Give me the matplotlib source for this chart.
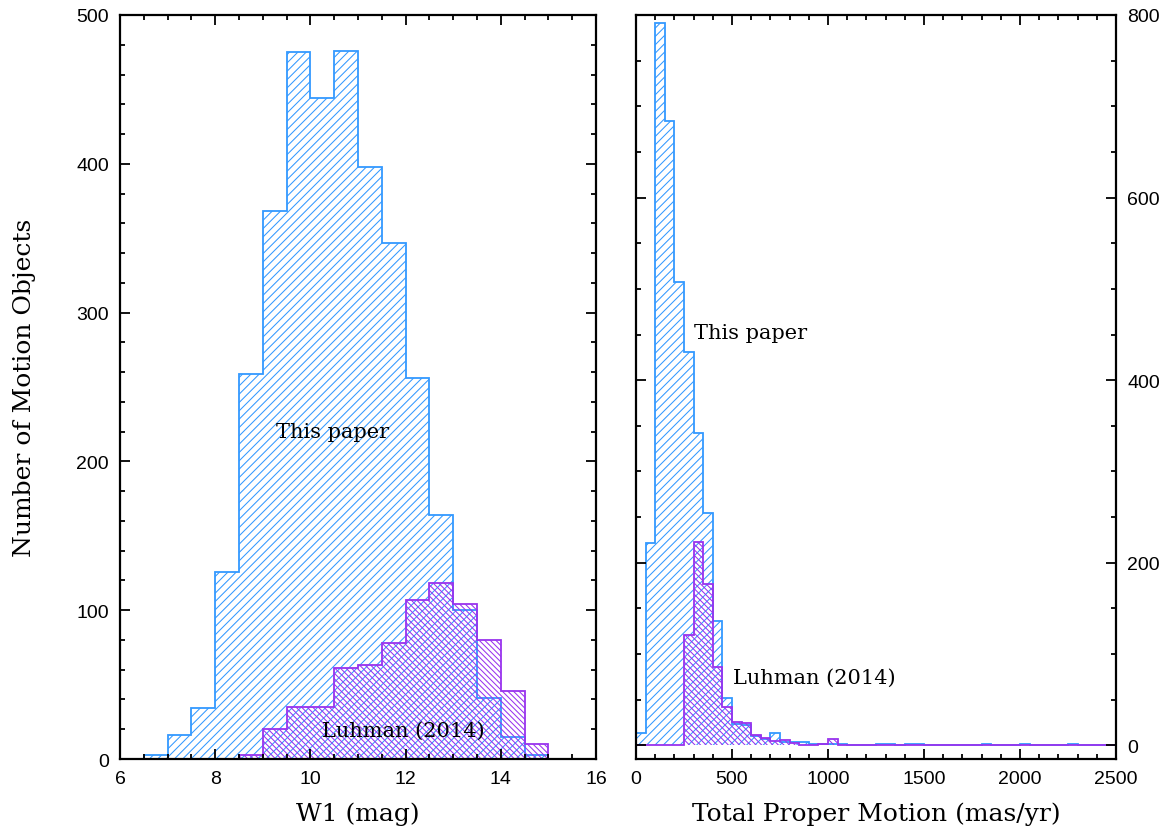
import numpy as np
import matplotlib.pyplot as plt
from matplotlib.ticker import MultipleLocator

# --- W1 histogram (bins of 0.5 mag, 6.5 to 15.0) ---
w1_edges = np.arange(6.5, 15.01, 0.5)
w1_this_paper = [3, 16, 34, 126, 259, 368, 475, 444, 476, 398,
                 347, 256, 164, 100, 41, 15, 3]
w1_luhman = [0, 0, 0, 0, 3, 20, 35, 35, 61, 63,
             78, 107, 118, 104, 80, 46, 10]

# --- total proper motion histogram (bins of 50 mas/yr, 0 to 2500) ---
pm_edges = np.arange(0, 2501, 50)
pm_this_paper = [14, 222, 791, 684, 507, 431, 342, 255, 136, 52,
                 23, 22, 10, 7, 13, 4, 4, 4, 1, 1,
                 1, 1, 0, 0, 0, 1, 1, 0, 2, 2,
                 0, 0, 0, 0, 0, 0, 1, 0, 0, 0,
                 1, 0, 0, 0, 0, 1, 0, 0, 0, 0]
pm_luhman = [0, 0, 0, 0, 0, 121, 223, 177, 86, 42,
             26, 24, 11, 8, 5, 6, 3, 0, 0, 2,
             7, 0, 0, 0, 0, 0, 0, 0, 0, 0,
             0, 0, 0, 0, 0, 0, 0, 0, 0, 0,
             0, 0, 0, 0, 0, 0, 0, 0, 0, 0]

c_blue = '#3399ff'
c_purp = '#9933ee'
serif = 'DejaVu Serif'
sans = 'Liberation Sans'

plt.rcParams['hatch.linewidth'] = 0.75

fig = plt.figure(figsize=(11.71, 8.28), dpi=100)
ax1 = fig.add_axes([0.1025, 0.0821, 0.4065, 0.8986])
ax2 = fig.add_axes([0.5431, 0.0821, 0.4099, 0.8986])


def hatched_hist(ax, edges, values, color, hatch):
    values = np.asarray(values, dtype=float)
    widths = np.diff(edges)
    ax.bar(edges[:-1], values, width=widths, align='edge', fill=False,
           hatch=hatch, edgecolor=color, linewidth=0)
    ax.stairs(values, edges, color=color, linewidth=1.3, baseline=0)


hatched_hist(ax1, w1_edges, w1_this_paper, c_blue, '/' * 4)
hatched_hist(ax1, w1_edges, w1_luhman, c_purp, '\\' * 6)
hatched_hist(ax2, pm_edges, pm_this_paper, c_blue, '/' * 4)
hatched_hist(ax2, pm_edges, pm_luhman, c_purp, '\\' * 6)

ax1.set_xlim(6, 16)
ax1.set_ylim(0, 500)
ax1.xaxis.set_major_locator(MultipleLocator(2))
ax1.xaxis.set_minor_locator(MultipleLocator(0.5))
ax1.yaxis.set_major_locator(MultipleLocator(100))
ax1.yaxis.set_minor_locator(MultipleLocator(20))

ax2.set_xlim(0, 2500)
ax2.set_ylim(-15, 800)
ax2.xaxis.set_major_locator(MultipleLocator(500))
ax2.xaxis.set_minor_locator(MultipleLocator(100))
ax2.yaxis.set_major_locator(MultipleLocator(200))
ax2.yaxis.set_minor_locator(MultipleLocator(50))
ax2.yaxis.tick_right()

for ax in (ax1, ax2):
    ax.tick_params(which='both', direction='in', top=True, bottom=True,
                   left=True, right=True, width=1.3)
    ax.tick_params(which='major', length=7, labelsize=14, pad=8)
    ax.tick_params(which='minor', length=3.5)
    for sp in ax.spines.values():
        sp.set_linewidth(1.6)
    for lab in ax.get_xticklabels() + ax.get_yticklabels():
        lab.set_family(sans)

ax2.tick_params(axis='y', labelleft=False, labelright=True)

ax1.set_xlabel('W1 (mag)', fontsize=18, family=serif, labelpad=10)
ax1.set_ylabel('Number of Motion Objects', fontsize=18, family=serif, labelpad=29)
ax2.set_xlabel('Total Proper Motion (mas/yr)', fontsize=18, family=serif, labelpad=10)

ax1.text(9.27, 220, 'This paper', fontsize=15, family=serif, va='center')
ax1.text(10.25, 19.5, 'Luhman (2014)', fontsize=15, family=serif, va='center')
ax2.text(302, 452, 'This paper', fontsize=15, family=serif, va='center')
ax2.text(505, 75, 'Luhman (2014)', fontsize=15, family=serif, va='center')

fig.savefig('out.png', dpi=100)
